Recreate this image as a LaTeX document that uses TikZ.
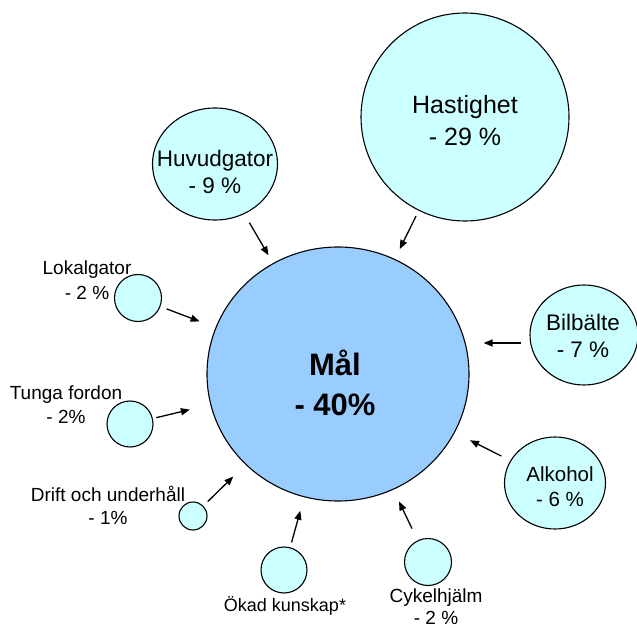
\documentclass[tikz,border=0pt]{standalone}
\usepackage{fontspec}
\setmainfont{Liberation Sans}
\usetikzlibrary{arrows.meta,shapes.geometric}
\definecolor{pale}{HTML}{CCFFFF}
\definecolor{goal}{HTML}{99CCFF}
\begin{document}
\begin{tikzpicture}[x=1pt,y=-1pt,
  bub/.style={ellipse,draw=black,line width=1.1pt,fill=pale,inner sep=0pt},
  arr/.style={-{Triangle[length=9pt,width=7pt]},line width=1.3pt},
  lab/.style={align=center,inner sep=0pt},
  small/.style={lab,font=\fontsize{19}{24}\selectfont},
  mid/.style={lab,font=\fontsize{22.5}{27}\selectfont}]
\useasboundingbox (0,0) rectangle (637,628);
% circles
\node[bub,fill=goal,minimum width=262pt,minimum height=254pt] (mal) at (338,374) {};
\node[bub,minimum width=208pt,minimum height=208pt] (hast) at (465,117) {};
\node[bub,minimum width=125pt,minimum height=112pt] (huv) at (215,164) {};
\node[bub,minimum width=108pt,minimum height=100pt] (bil) at (584,335) {};
\node[bub,minimum width=101pt,minimum height=92pt] (alk) at (555,483) {};
\node[bub,minimum size=47pt] (lok) at (138,298) {};
\node[bub,minimum size=46pt] (tun) at (130,424) {};
\node[bub,minimum size=28pt] (dri) at (193,516) {};
\node[bub,minimum size=46pt] (oka) at (284,570) {};
\node[bub,minimum size=47pt] (cyk) at (428,562) {};
% texts
\node[lab,font=\bfseries\fontsize{31}{40}\selectfont] (maltxt) at (335,383) {Mål\\- 40\%};
\node[lab,font=\fontsize{25}{32}\selectfont] (hasttxt) at (465,121) {Hastighet\\- 29 \%};
\node[mid] (huvtxt) at (215,172) {Huvudgator\\- 9 \%};
\node[mid] (biltxt) at (583,336) {Bilbälte\\- 7 \%};
\node[lab,font=\fontsize{20.5}{25}\selectfont] (alktxt) at (560,487) {Alkohol\\- 6 \%};
\node[small,font=\fontsize{19}{25}\selectfont] (loktxt) at (87,280) {Lokalgator\\- 2 \%};
\node[small] (tuntxt) at (66,405) {Tunga fordon\\- 2\%};
\node[small,font=\fontsize{19}{23}\selectfont] (dritxt) at (108,505) {Drift och underhåll\\- 1\%};
\node[lab,font=\fontsize{18}{22}\selectfont] (okatxt) at (285,606) {Ökad kunskap*};
\node[lab,font=\fontsize{19}{22}\selectfont] (cyktxt) at (436,607) {Cykelhjälm\\- 2 \%};
% arrows
\draw[arr,shorten <=10pt,shorten >=9pt] (huv) -- (mal);
\draw[arr,shorten <=6pt,shorten >=11pt] (hast) -- (mal);
\draw[arr] ([shift={(-8pt,-8pt)}]bil.west) -- ([shift={(14pt,31pt)}]mal.east);
\draw[arr,shorten <=10pt,shorten >=17pt] (alk) -- (mal);
\draw[arr,shorten <=13pt,shorten >=13pt] (cyk) -- (mal);
\draw[arr,shorten <=5pt,shorten >=14pt] (oka) -- (mal);
\draw[arr,shorten <=6pt,shorten >=17pt] (dri) -- (mal);
\draw[arr,shorten <=3.5pt,shorten >=21pt] (tun) -- (mal);
\draw[arr,shorten <=6.5pt,shorten >=17pt] (lok) -- (mal);
\end{tikzpicture}
\end{document}
